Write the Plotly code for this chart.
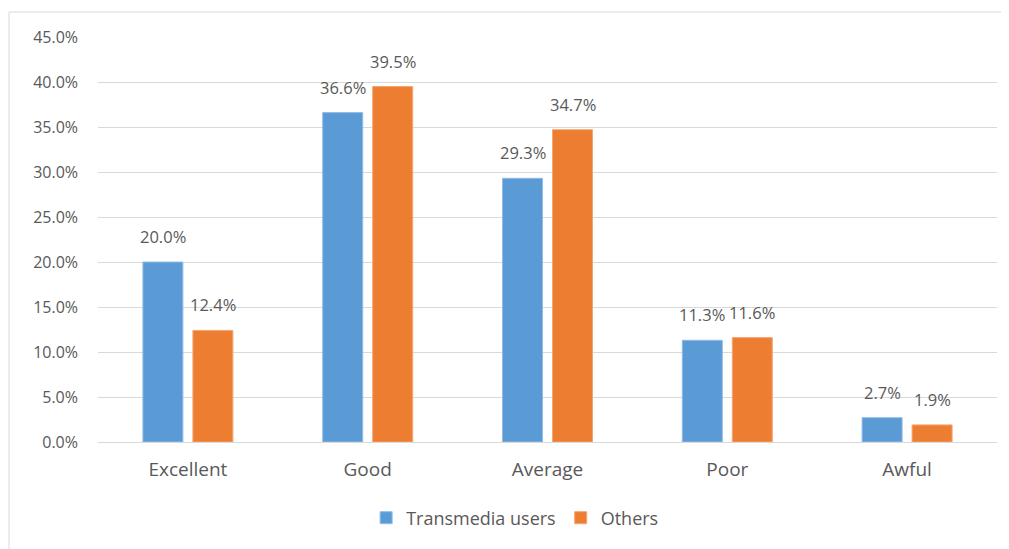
import plotly.graph_objects as go

categories = ["Excellent", "Good", "Average", "Poor", "Awful"]
transmedia = [0.200, 0.366, 0.293, 0.113, 0.027]
others = [0.124, 0.395, 0.347, 0.116, 0.019]
series_names = ["Transmedia users", "Others"]
y_ticks = [0, 0.05, 0.10, 0.15, 0.20, 0.25, 0.30, 0.35, 0.40, 0.45]

FONT = "Open Sans"
TXT = "#595959"
colors = ["#5B9BD5", "#ED7D31"]
edges = ["#8FBCE6", "#F4A672"]

fig = go.Figure()
for name, vals, c, e in zip(series_names, [transmedia, others], colors, edges):
    fig.add_trace(go.Bar(
        x=categories, y=vals, name=name,
        marker=dict(color=c, line=dict(color=e, width=1)),
    ))

# data labels
for i, vals in enumerate([transmedia, others]):
    shift = -25 if i == 0 else 25
    for cat, v in zip(categories, vals):
        fig.add_annotation(
            x=cat, y=v, xref="x", yref="y", text=f"{v*100:.1f}%",
            showarrow=False, xshift=shift, yshift=12, yanchor="bottom",
            font=dict(family=FONT, size=16.5, color=TXT),
        )

# chart frame
fig.add_shape(type="rect", xref="paper", yref="paper",
              x0=(9 - 98) / 899, x1=(1030 - 98) / 899,
              y0=(442 - 570) / 405, y1=(442 - 12) / 405,
              line=dict(color="#D9D9D9", width=1), fillcolor="rgba(0,0,0,0)", layer="below")

fig.update_layout(
    width=1001, height=541,
    margin=dict(l=90, r=12, t=29, b=107),
    paper_bgcolor="white", plot_bgcolor="white",
    barmode="group", bargap=0.444, bargroupgap=0.2,
    font=dict(family=FONT, size=16, color=TXT),
    showlegend=True,
    legend=dict(orientation="h", x=0.464, xanchor="center", y=(442 - 518) / 405, yanchor="middle",
                font=dict(family=FONT, size=18, color=TXT), itemwidth=30, traceorder="normal"),
    xaxis=dict(showgrid=False, showline=True, linecolor="#D9D9D9", linewidth=1,
               ticks="", tickfont=dict(family=FONT, size=19, color=TXT), ticklabelstandoff=10),
    yaxis=dict(range=[0, 0.45], tickvals=y_ticks, tickformat=".1%", showgrid=True,
               gridcolor="#D9D9D9", gridwidth=1, zeroline=False, showline=False, ticks="",
               tickfont=dict(family=FONT, size=16, color=TXT), ticklabelstandoff=19),
)

fig.write_html("out.html")
